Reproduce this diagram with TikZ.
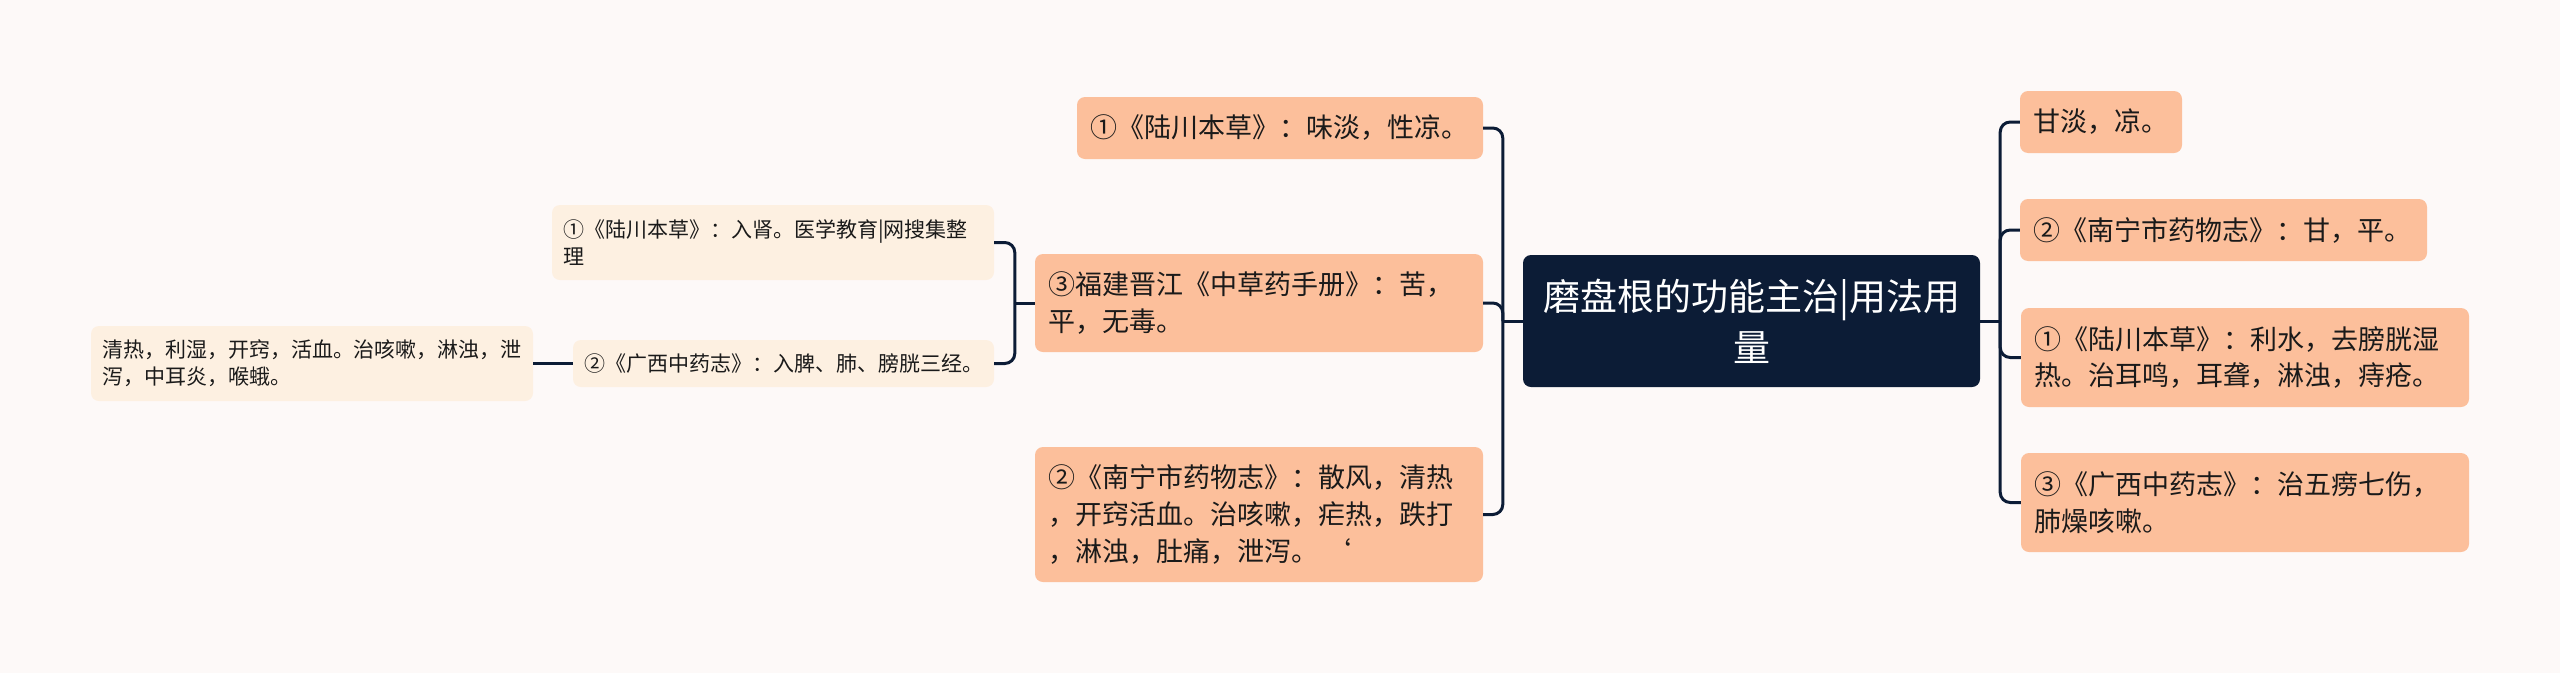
\documentclass[tikz,border=0pt]{standalone}
\usepackage{fontspec}
\newfontfamily\cjk{Noto Sans CJK SC}
\usetikzlibrary{calc}
\definecolor{bg}{HTML}{FDF9F8}
\definecolor{navy}{HTML}{0C1C36}
\definecolor{salmon}{HTML}{FCBF9B}
\definecolor{cream}{HTML}{FDF0E1}
\definecolor{ink}{HTML}{1A1A1A}
\begin{document}
\begin{tikzpicture}[x=1pt,y=-1pt,
  box/.style={rounded corners=8pt, inner xsep=13pt, inner ysep=0pt, align=left, font=\cjk\fontsize{27}{36.7}\selectfont, text=ink},
  big/.style={box, fill=salmon},
  small/.style={box, fill=cream, font=\cjk\fontsize{21}{27}\selectfont, inner xsep=11pt},
  root/.style={rounded corners=8pt, fill=navy, text=white, align=center, font=\cjk\fontsize{37}{51}\selectfont},
  link/.style={draw=navy, line width=3pt, rounded corners=10pt}]
\useasboundingbox (0,0) rectangle (2560,673);
\fill[bg] (0,0) rectangle (2560,673);

\node[root, minimum width=457pt, minimum height=132pt] (c) at (1751.5,321) {磨盘根的功能主治|用法用\\量};

\node[big, minimum height=62pt, text width=136pt] (r1) at (2101,122) {甘淡，凉。};
\node[big, minimum height=62pt, text width=381pt] (r2) at (2223.5,230) {②《南宁市药物志》：甘，平。};
\node[big, minimum height=99pt, text width=422pt] (r3) at (2245,357.5) {①《陆川本草》：利水，去膀胱湿\\热。治耳鸣，耳聋，淋浊，痔疮。};
\node[big, minimum height=99pt, text width=422pt] (r4) at (2245,502.5) {③《广西中药志》：治五痨七伤，\\肺燥咳嗽。};

\node[big, minimum height=62pt, text width=380pt] (l1) at (1280,128) {①《陆川本草》：味淡，性凉。};
\node[big, minimum height=98pt, text width=422pt] (l2) at (1259,303) {③福建晋江《中草药手册》：苦，\\平，无毒。};
\node[big, minimum height=135pt, text width=422pt] (l3) at (1259,514.5) {②《南宁市药物志》：散风，清热\\，开窍活血。治咳嗽，疟热，跌打\\，淋浊，肚痛，泄泻。\hspace{6pt}‘};

\node[small, minimum height=75pt, text width=420pt] (m1) at (773,242.5) {①《陆川本草》：入肾。医学教育|网搜集整\\理};
\node[small, minimum height=47pt, text width=399pt] (m2) at (783.5,363.5) {②《广西中药志》：入脾、肺、膀胱三经。};
\node[small, minimum height=75pt, text width=420pt] (m3) at (312,363.5) {清热，利湿，开窍，活血。治咳嗽，淋浊，泄\\泻，中耳炎，喉蛾。};

\coordinate (jr) at ($(c.east)+(20,0)$);
\draw[link] (c.east) -- (jr);
\foreach \n in {r1,r2,r3,r4} \draw[link] (jr) |- (\n.west);
\coordinate (jl) at ($(c.west)+(-20,0)$);
\draw[link] (c.west) -- (jl);
\foreach \n in {l1,l2,l3} \draw[link] (jl) |- (\n.east);
\coordinate (j2) at ($(l2.west)+(-20,0)$);
\draw[link] (l2.west) -- (j2);
\foreach \n in {m1,m2} \draw[link] (j2) |- (\n.east);
\draw[link] (m2.west) -- (m3.east);
\end{tikzpicture}
\end{document}
